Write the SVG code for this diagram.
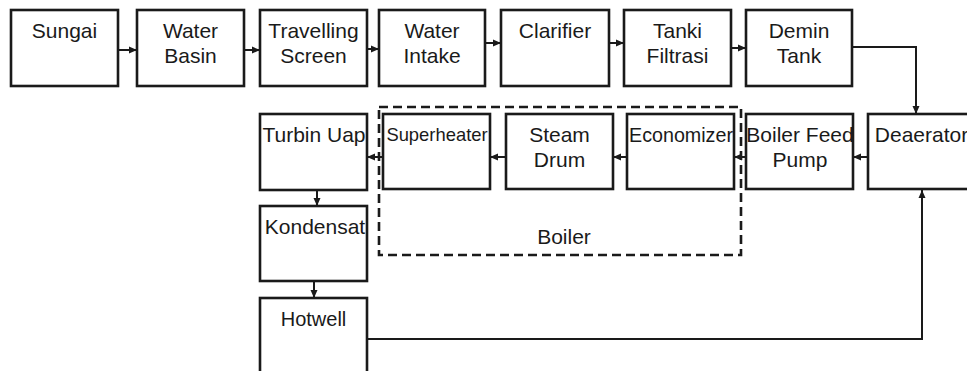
<svg xmlns="http://www.w3.org/2000/svg" width="967" height="371" viewBox="0 0 967 371">
<style>
.box{fill:#fff;stroke:#1a1a1a;stroke-width:2.6}
.t{font-family:"Liberation Sans",Arial,sans-serif;font-size:21px;fill:#1a1a1a;text-anchor:middle}
.c{fill:none;stroke:#1a1a1a;stroke-width:2}
.dash{fill:none;stroke:#1a1a1a;stroke-width:2.6;stroke-dasharray:9 5}
</style>
<defs>
<marker id="ah" viewBox="0 0 8 8" refX="8" refY="4" markerWidth="8" markerHeight="8" markerUnits="userSpaceOnUse" orient="auto">
<path d="M0,0.5 L8,4 L0,7.5 Z" fill="#1a1a1a"/>
</marker>
</defs>
<rect width="967" height="371" fill="#fff"/>

<g id="boiler-group">
<rect class="dash" x="379" y="107" width="362" height="148"/>
<text class="t" x="564" y="244">Boiler</text>
</g>

<g id="sungai"><rect class="box" x="11" y="10" width="107" height="76"/><text class="t" x="64.5" y="38">Sungai</text></g>
<g id="water-basin"><rect class="box" x="137" y="10" width="107" height="76"/><text class="t" x="190.5" y="38">Water</text><text class="t" x="190.5" y="63">Basin</text></g>
<g id="travelling-screen"><rect class="box" x="260" y="10" width="107" height="76"/><text class="t" x="313.5" y="38">Travelling</text><text class="t" x="313.5" y="63">Screen</text></g>
<g id="water-intake"><rect class="box" x="379" y="10" width="106" height="76"/><text class="t" x="432" y="38">Water</text><text class="t" x="432" y="63">Intake</text></g>
<g id="clarifier"><rect class="box" x="501" y="10" width="108" height="76"/><text class="t" x="555" y="38">Clarifier</text></g>
<g id="tanki-filtrasi"><rect class="box" x="624" y="10" width="107" height="76"/><text class="t" x="677.5" y="38">Tanki</text><text class="t" x="677.5" y="63">Filtrasi</text></g>
<g id="demin-tank"><rect class="box" x="746" y="10" width="106" height="76"/><text class="t" x="799" y="38">Demin</text><text class="t" x="799" y="63">Tank</text></g>

<g id="turbin-uap"><rect class="box" x="260" y="114" width="107" height="76"/><text class="t" x="314" y="142">Turbin Uap</text></g>
<g id="superheater"><rect class="box" x="383" y="114" width="107" height="75"/><text class="t" x="437" y="141" style="font-size:18.4px">Superheater</text></g>
<g id="steam-drum"><rect class="box" x="506" y="114" width="107" height="75"/><text class="t" x="559.5" y="142">Steam</text><text class="t" x="559.5" y="167">Drum</text></g>
<g id="economizer"><rect class="box" x="627" y="114" width="107" height="75"/><text class="t" x="681" y="142" style="font-size:19.7px">Economizer</text></g>
<g id="boiler-feed-pump"><rect class="box" x="746" y="114" width="107" height="75"/><text class="t" x="800" y="142">Boiler Feed</text><text class="t" x="800" y="167">Pump</text></g>
<g id="deaerator"><rect class="box" x="868" y="114" width="110" height="75"/><text class="t" x="921.5" y="142">Deaerator</text></g>

<g id="kondensat"><rect class="box" x="260" y="206" width="107" height="75"/><text class="t" x="315" y="234">Kondensat</text></g>
<g id="hotwell"><rect class="box" x="260" y="298" width="107" height="100"/><text class="t" x="313.5" y="326" style="font-size:20px">Hotwell</text></g>

<g id="connectors">
<line class="c" x1="118" y1="50" x2="137" y2="50" marker-end="url(#ah)"/>
<line class="c" x1="244" y1="50" x2="260" y2="50" marker-end="url(#ah)"/>
<line class="c" x1="367" y1="49" x2="379" y2="49" marker-end="url(#ah)"/>
<line class="c" x1="485" y1="43" x2="501" y2="43" marker-end="url(#ah)"/>
<line class="c" x1="609" y1="43" x2="624" y2="43" marker-end="url(#ah)"/>
<line class="c" x1="731" y1="48" x2="746" y2="48" marker-end="url(#ah)"/>
<polyline class="c" points="852,47 916,47 916,114" marker-end="url(#ah)"/>
<line class="c" x1="868" y1="157" x2="853" y2="157" marker-end="url(#ah)"/>
<line class="c" x1="746" y1="157" x2="734" y2="157" marker-end="url(#ah)"/>
<line class="c" x1="627" y1="157" x2="613" y2="157" marker-end="url(#ah)"/>
<line class="c" x1="506" y1="157" x2="490" y2="157" marker-end="url(#ah)"/>
<line class="c" x1="383" y1="157" x2="367" y2="157" marker-end="url(#ah)"/>
<line class="c" x1="317" y1="190" x2="317" y2="206" marker-end="url(#ah)"/>
<line class="c" x1="314" y1="281" x2="314" y2="298" marker-end="url(#ah)"/>
<polyline class="c" points="367,339 922,339 922,190" marker-end="url(#ah)"/>
</g>
</svg>
